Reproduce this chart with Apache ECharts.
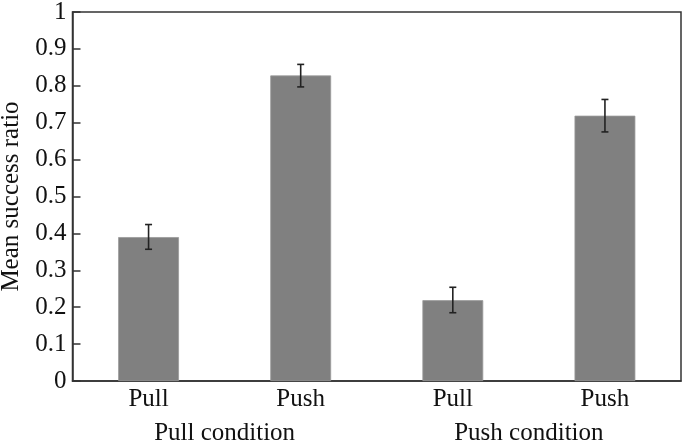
<!DOCTYPE html>
<html>
<head>
<meta charset="utf-8">
<script src="https://cdn.jsdelivr.net/npm/echarts@6/dist/echarts.min.js"></script>
<style>html,body{margin:0;padding:0;background:#fff}#c{width:683px;height:446px}</style>
</head>
<body>
<div id="c"></div>
<script>
const categories = ['Pull', 'Push', 'Pull', 'Push'];
const groups = ['Pull condition', 'Push condition'];
const means = [0.39, 0.828, 0.219, 0.719];
const errLow = [0.357, 0.797, 0.185, 0.675];
const errHigh = [0.424, 0.858, 0.254, 0.763];

const FONT = 'Liberation Serif';
const FS = 25;
const chart = echarts.init(document.getElementById('c'));
chart.setOption({
  animation: false,
  textStyle: { fontFamily: FONT },
  grid: { left: 72.5, right: 2, top: 12, bottom: 65, containLabel: false, outerBoundsMode: 'none',
          show: true, borderColor: '#333', borderWidth: 1.5 },
  xAxis: [{
    type: 'category', data: categories, position: 'bottom',
    axisLine: { show: true, lineStyle: { color: '#333', width: 1.5 } },
    axisTick: { show: false },
    axisLabel: { color: '#111', fontSize: FS, fontFamily: FONT, margin: 6 }
  }, {
    type: 'category', data: groups, position: 'bottom',
    axisLine: { show: false }, axisTick: { show: false },
    axisLabel: { color: '#111', fontSize: FS, fontFamily: FONT, margin: 40 }
  }],
  yAxis: {
    type: 'value', min: 0, max: 1, interval: 0.1,
    name: 'Mean success ratio', nameLocation: 'middle', nameGap: 47,
    nameTextStyle: { color: '#111', fontSize: FS, fontFamily: FONT },
    axisLine: { show: true, lineStyle: { color: '#333', width: 1.5 } },
    axisTick: { show: true, inside: true, length: 8, lineStyle: { color: '#333', width: 1.5 } },
    axisLabel: { color: '#111', fontSize: FS, fontFamily: FONT, margin: 6 },
    splitLine: { show: false }
  },
  series: [{
    type: 'bar', data: means, barWidth: '40%', xAxisIndex: 0,
    itemStyle: { color: '#808080', borderColor: '#9a9a9a', borderWidth: 0.8 }
  }, {
    type: 'custom', xAxisIndex: 0, z: 10,
    data: categories.map((c, i) => [i, errLow[i], errHigh[i]]),
    renderItem: function (params, api) {
      const x = api.value(0);
      const lo = api.coord([x, api.value(1)]);
      const hi = api.coord([x, api.value(2)]);
      const w = 3.5;
      const st = { stroke: '#222', lineWidth: 1.6 };
      return { type: 'group', children: [
        { type: 'line', shape: { x1: lo[0], y1: lo[1], x2: hi[0], y2: hi[1] }, style: st },
        { type: 'line', shape: { x1: lo[0] - w, y1: lo[1], x2: lo[0] + w, y2: lo[1] }, style: st },
        { type: 'line', shape: { x1: hi[0] - w, y1: hi[1], x2: hi[0] + w, y2: hi[1] }, style: st }
      ]};
    }
  }]
});
</script>
</body>
</html>
